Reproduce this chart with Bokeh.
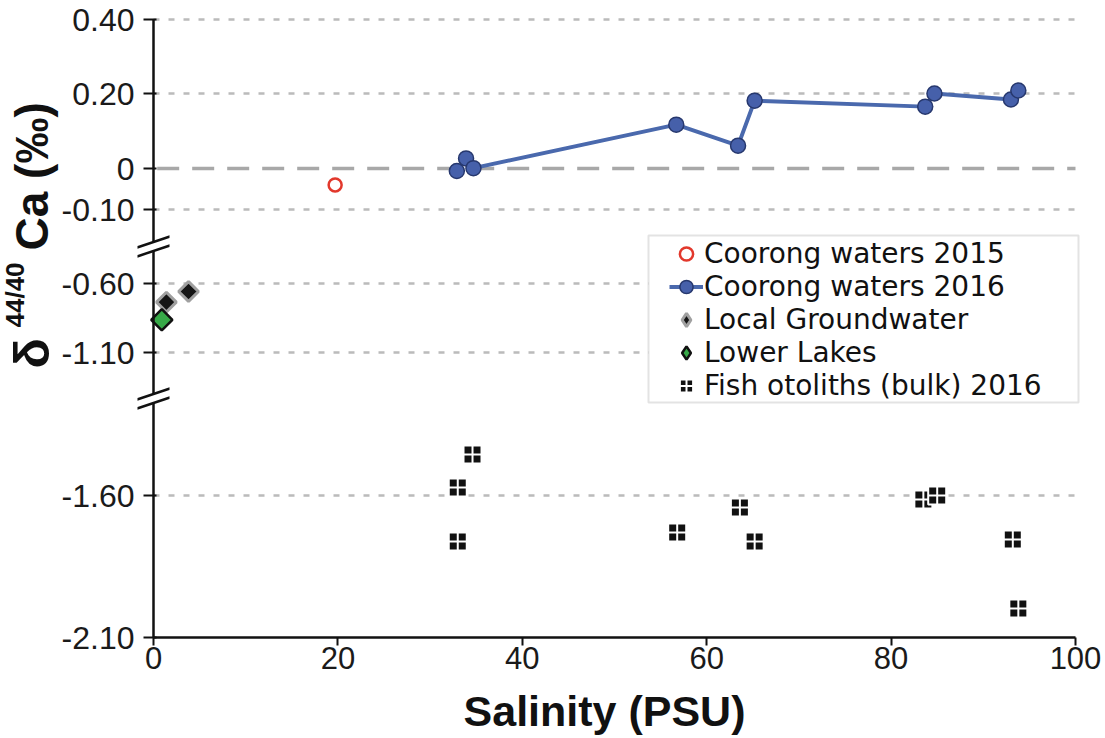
import numpy as np
from bokeh.plotting import figure
from bokeh.models import (Range1d, FixedTicker, Label, Legend, LegendItem,
                          PolyAnnotation, BoxAnnotation)
from bokeh.embed import file_html
from bokeh.resources import INLINE

# ---------------- data ----------------
coorong2015_salinity = [19.7]
coorong2015_d44ca = [-0.04]

coorong2016_salinity = [32.9, 33.9, 34.7, 56.7, 63.4, 65.2, 83.7, 84.7, 93.0, 93.8]
coorong2016_d44ca = [-0.006, 0.027, 0.001, 0.117, 0.061, 0.181, 0.165, 0.200, 0.184, 0.208]

groundwater_salinity = [1.4, 3.8]
groundwater_d44ca = [-0.735, -0.658]

lowerlakes_salinity = [0.9]
lowerlakes_d44ca = [-0.863]

otolith_salinity = [33.0, 34.6, 33.0, 56.8, 63.6, 65.2, 83.5, 85.0, 93.2, 93.8]
otolith_d44ca = [-1.572, -1.456, -1.762, -1.730, -1.642, -1.762, -1.614, -1.600, -1.755, -1.998]

x_ticks = [0, 20, 40, 60, 80, 100]
y_tick_values = [0.40, 0.20, 0.00, -0.10, -0.60, -1.10, -1.60, -2.10]
y_tick_labels = ["0.40", "0.20", "0", "-0.10", "-0.60", "-1.10", "-1.60", "-2.10"]

legend_labels = ["Coorong waters 2015", "Coorong waters 2016", "Local Groundwater",
                 "Lower Lakes", "Fish otoliths (bulk) 2016"]

# ---------------- broken-axis scale definition ----------------
# each axis segment: its tick values and their distance (px) from the top of the page
SEGMENTS = [([0.40, 0.20, 0.00, -0.10], [19, 93, 168, 209]),
            ([-0.60, -1.10], [283, 352]),
            ([-1.60, -2.10], [495, 637])]
SEG_LIMITS = [-0.35, -1.35]
BREAKS_PX = [246, 398]
X0_PX, X100_PX = 153.0, 1075.0
PX_PER_X = (X100_PX - X0_PX) / 100.0
W, H = 1105, 738


def to_axis(v):
    if v > SEG_LIMITS[0]:
        vals, pos = SEGMENTS[0]
    elif v > SEG_LIMITS[1]:
        vals, pos = SEGMENTS[1]
    else:
        vals, pos = SEGMENTS[2]
    xv = np.array(vals[::-1], float)
    yp = np.array(pos[::-1], float)
    if v < xv[0]:
        s = (yp[1] - yp[0]) / (xv[1] - xv[0])
        p = yp[0] + s * (v - xv[0])
    elif v > xv[-1]:
        s = (yp[-1] - yp[-2]) / (xv[-1] - xv[-2])
        p = yp[-1] + s * (v - xv[-1])
    else:
        p = float(np.interp(v, xv, yp))
    return -p


def ax(vals):
    return [to_axis(v) for v in vals]


def xdat(px):
    return (px - X0_PX) / PX_PER_X


y_tick_pos = [int(round(to_axis(v))) for v in y_tick_values]
y_bottom = y_tick_pos[-1]
y_top = y_tick_pos[0]

p = figure(width=W, height=H,
           x_range=Range1d(xdat(0), xdat(W)),
           y_range=Range1d(-H, 0),
           output_backend="svg", toolbar_location=None,
           min_border=0, min_border_left=0, min_border_right=0,
           min_border_top=0, min_border_bottom=0,
           background_fill_color="white", border_fill_color="white",
           outline_line_color=None)

FONT = "Liberation Sans"
LEG_FONT = "DejaVu Sans"
INK = "#111111"

# x axis (drawn at the bottom of the lowest segment)
p.xaxis.fixed_location = y_bottom
p.xaxis.bounds = (0, 100)
p.xaxis.ticker = FixedTicker(ticks=x_ticks)
p.xaxis.axis_line_width = 2.5
p.xaxis.axis_line_color = INK
p.xaxis.major_tick_line_width = 2
p.xaxis.major_tick_line_color = INK
p.xaxis.major_tick_out = 8
p.xaxis.major_tick_in = 0
p.xaxis.minor_tick_line_color = None
p.xaxis.major_label_text_font = FONT
p.xaxis.major_label_text_font_size = "31px"
p.xaxis.major_label_text_color = "#1a1a1a"
p.xaxis.major_label_standoff = 1

# y axis (broken, drawn at salinity 0)
p.yaxis.fixed_location = 0
p.yaxis.bounds = (y_bottom, y_top)
p.yaxis.ticker = FixedTicker(ticks=y_tick_pos)
p.yaxis.major_label_overrides = {pos: lab for pos, lab in zip(y_tick_pos, y_tick_labels)}
p.yaxis.axis_line_width = 2.5
p.yaxis.axis_line_color = INK
p.yaxis.major_tick_line_width = 2
p.yaxis.major_tick_line_color = INK
p.yaxis.major_tick_out = 10
p.yaxis.major_tick_in = 3
p.yaxis.minor_tick_line_color = None
p.yaxis.major_label_text_font = FONT
p.yaxis.major_label_text_font_size = "32px"
p.yaxis.major_label_text_color = "#1a1a1a"
p.yaxis.major_label_standoff = 9

# grid: dotted reference lines, long-dashed zero line
p.xgrid.visible = False
p.ygrid.visible = False
grid_pos = [pos for v, pos in zip(y_tick_values, y_tick_pos) if v not in (0.0, -2.10)]
p.segment(x0=[0] * len(grid_pos), x1=[100] * len(grid_pos), y0=grid_pos, y1=grid_pos,
          line_color="#BBBBBB", line_width=2.5, line_dash="6 9")
zero_y = to_axis(0.0)
p.segment(x0=[0.4], x1=[100], y0=[zero_y], y1=[zero_y],
          line_color="#A8A8A8", line_width=3.5, line_dash="22 13")

# ---------------- data glyphs ----------------
r_line = p.line(coorong2016_salinity, ax(coorong2016_d44ca), line_color="#4A69AD", line_width=4)
r_c16 = p.scatter(coorong2016_salinity, ax(coorong2016_d44ca), marker="circle", size=15,
                  fill_color="#4660AA", line_color="#27386E", line_width=1.5)
r_c15 = p.scatter(coorong2015_salinity, ax(coorong2015_d44ca), marker="circle", size=13,
                  fill_color=None, line_color="#E2382C", line_width=2.5)

# diamond keys used by the legend (hidden underneath the rotated squares below)
r_gw_key = p.scatter(groundwater_salinity, ax(groundwater_d44ca), marker="diamond", size=10,
                     fill_color="#151515", line_color="#A0A0A0", line_width=3)
r_ll_key = p.scatter(lowerlakes_salinity, ax(lowerlakes_d44ca), marker="diamond", size=10,
                     fill_color="#37A948", line_color=INK, line_width=2.5)

r_gw = p.scatter(groundwater_salinity, ax(groundwater_d44ca), marker="square", angle=np.pi / 4,
                 size=14, fill_color="#151515", line_color="#A0A0A0", line_width=3)
r_ll = p.scatter(lowerlakes_salinity, ax(lowerlakes_d44ca), marker="square", angle=np.pi / 4,
                 size=15, fill_color="#37A948", line_color=INK, line_width=2.5)
r_fish = p.scatter(otolith_salinity, ax(otolith_d44ca), marker="square_cross", size=18,
                   fill_color=INK, line_color="white", line_width=2)

# legend frame
LEG_L, LEG_R, LEG_T, LEG_B = 648, 1078, 235, 402
p.add_layout(BoxAnnotation(left=xdat(LEG_L), right=xdat(LEG_R), top=-LEG_T, bottom=-LEG_B,
                           fill_color="white", fill_alpha=1.0,
                           line_color="#A3A3A3", line_width=2))

legend = Legend(items=[
    LegendItem(label=legend_labels[0], renderers=[r_c15]),
    LegendItem(label=legend_labels[1], renderers=[r_line, r_c16]),
    LegendItem(label=legend_labels[2], renderers=[r_gw_key]),
    LegendItem(label=legend_labels[3], renderers=[r_ll_key]),
    LegendItem(label=legend_labels[4], renderers=[r_fish]),
], location=(669, H - 402))
legend.border_line_color = None
legend.background_fill_alpha = 0.0
legend.label_text_font = LEG_FONT
legend.label_text_font_size = "28px"
legend.label_text_color = INK
legend.label_height = 33
legend.glyph_height = 33
legend.glyph_width = 34
legend.label_standoff = 1
legend.padding = 1
legend.spacing = 0
legend.margin = 0
p.add_layout(legend)

# ---------------- axis breaks ----------------
HW = 16.0      # half width of a slash, px
SEP = 9.0      # vertical distance between the two slashes, px
TH = 1.3       # half thickness of a slash, px
for b in BREAKS_PX:
    yu = -(b - SEP / 2)
    yl = -(b + SEP / 2)
    gx = 4.0
    p.add_layout(PolyAnnotation(
        xs=[-gx / PX_PER_X, gx / PX_PER_X, gx / PX_PER_X, -gx / PX_PER_X],
        ys=[yu - gx / 3, yu + gx / 3, yl + gx / 3, yl - gx / 3],
        fill_color="white", fill_alpha=1.0, line_color=None))
    for yc in (yu, yl):
        p.add_layout(PolyAnnotation(
            xs=[-HW / PX_PER_X, HW / PX_PER_X, HW / PX_PER_X, -HW / PX_PER_X],
            ys=[yc - HW / 3 + TH, yc + HW / 3 + TH, yc + HW / 3 - TH, yc - HW / 3 - TH],
            fill_color=INK, fill_alpha=1.0, line_color=None))

# ---------------- axis titles ----------------
p.add_layout(Label(x=xdat(31), y=-368, text="δ", angle=np.pi / 2,
                   text_font=FONT, text_font_style="bold", text_font_size="50px",
                   text_align="left", text_baseline="alphabetic", text_color=INK))
p.add_layout(Label(x=xdat(14), y=-327, text="44/40", angle=np.pi / 2,
                   text_font=FONT, text_font_style="bold", text_font_size="26px",
                   text_align="left", text_baseline="alphabetic", text_color=INK))
p.add_layout(Label(x=xdat(31), y=-250, text="Ca (‰)", angle=np.pi / 2,
                   text_font=FONT, text_font_style="bold", text_font_size="46px",
                   text_align="left", text_baseline="alphabetic", text_color=INK))
p.add_layout(Label(x=xdat(604), y=-710, text="Salinity (PSU)",
                   text_font=FONT, text_font_style="bold", text_font_size="43px",
                   text_align="center", text_baseline="alphabetic", text_color=INK))

open("out.html", "w").write(file_html(p, INLINE))
